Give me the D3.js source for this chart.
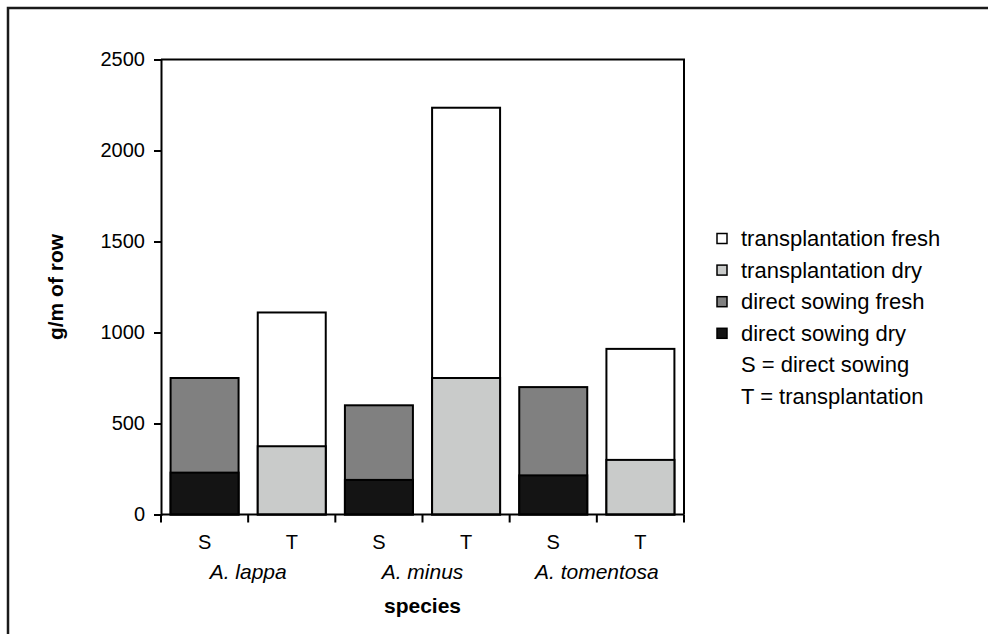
<!DOCTYPE html>
<html><head><meta charset="utf-8">
<script src="https://cdn.jsdelivr.net/npm/d3@7"></script>
<style>body{margin:0;background:#fff}svg{display:block}text{font-family:"Liberation Sans",Arial,sans-serif;fill:#000}</style>
</head><body><svg id="c" width="988" height="634"></svg>
<script>
const species = ["A. lappa", "A. minus", "A. tomentosa"];
const methods = ["S", "T"];
const sowingDry = [230, 190, 215];
const sowingFresh = [750, 600, 700];
const transDry = [375, 750, 300];
const transFresh = [1110, 2235, 910];
const yTicks = [0, 500, 1000, 1500, 2000, 2500];
const legendLabels = ["transplantation fresh", "transplantation dry", "direct sowing fresh", "direct sowing dry"];
const notes = ["S = direct sowing", "T = transplantation"];

const colors = {tf: "#ffffff", td: "#c9cbca", sf: "#808080", sd: "#141414"};
const FONT = '"Liberation Sans",Arial,sans-serif';
const svg = d3.select("#c");
svg.append("rect").attr("x", 8).attr("y", 8).attr("width", 1100).attr("height", 800)
  .attr("fill", "none").attr("stroke", "#1a1a1a").attr("stroke-width", 2.5);

const L = 161, R = 684, T = 59.5, B = 514.5;
const cats = [];
species.forEach((s, i) => methods.forEach(m => cats.push({key: s + "|" + m, sp: i, m})));
const x = d3.scaleBand().domain(cats.map(c => c.key)).range([L, R]).paddingInner(0.22).paddingOuter(0.11);
const xb = d3.scaleBand().domain(cats.map(c => c.key)).range([L, R]);
const y = d3.scaleLinear().domain([0, 2500]).range([B, T]);

// bars
const segs = [];
cats.forEach(c => {
  if (c.m === "S") {
    segs.push({key: c.key, v: sowingFresh[c.sp], f: colors.sf});
    segs.push({key: c.key, v: sowingDry[c.sp], f: colors.sd});
  } else {
    segs.push({key: c.key, v: transFresh[c.sp], f: colors.tf});
    segs.push({key: c.key, v: transDry[c.sp], f: colors.td});
  }
});
svg.append("g").selectAll("rect").data(segs).join("rect")
  .attr("x", d => x(d.key)).attr("width", x.bandwidth())
  .attr("y", d => y(d.v)).attr("height", d => y(0) - y(d.v))
  .attr("fill", d => d.f).attr("stroke", "#000").attr("stroke-width", 2);

// plot frame top and right
svg.append("path").attr("d", `M${L},${T}H${R}V${B}`).attr("fill", "none").attr("stroke", "#000").attr("stroke-width", 2);

// y axis
const ya = svg.append("g").attr("transform", `translate(${L},0)`)
  .call(d3.axisLeft(y).tickValues(yTicks).tickSize(7).tickPadding(9).tickFormat(d3.format("d")));
ya.select(".domain").attr("stroke-width", 2);
ya.selectAll(".tick line").attr("stroke-width", 2);
ya.selectAll("text").attr("font-size", 20).style("font-family", FONT);

// x axis
const xa = svg.append("g").attr("transform", `translate(0,${B})`);
xa.append("line").attr("x1", L).attr("x2", R).attr("stroke", "#000").attr("stroke-width", 2);
const bounds = cats.map(c => xb(c.key)).concat([R]);
xa.selectAll("line.t").data(bounds).join("line").attr("class", "t")
  .attr("x1", d => d).attr("x2", d => d).attr("y1", 0).attr("y2", 8)
  .attr("stroke", "#000").attr("stroke-width", 2);
xa.selectAll("text.m").data(cats).join("text").attr("class", "m")
  .attr("x", d => xb(d.key) + xb.bandwidth() / 2).attr("y", 34)
  .attr("text-anchor", "middle").attr("font-size", 20).text(d => d.m);
svg.selectAll("text.sp").data(species).join("text").attr("class", "sp")
  .attr("x", (d, i) => xb(d + "|T")).attr("y", 579)
  .attr("text-anchor", "middle").attr("font-size", 21).attr("font-style", "italic").text(d => d);

svg.append("text").attr("x", (L + R) / 2).attr("y", 613).attr("text-anchor", "middle")
  .attr("font-size", 21).attr("font-weight", "bold").text("species");
svg.append("text").attr("transform", `translate(63,${(T + B) / 2}) rotate(-90)`)
  .attr("text-anchor", "middle").attr("font-size", 21).attr("font-weight", "bold").text("g/m of row");

// legend
const lg = svg.append("g");
const lc = [colors.tf, colors.td, colors.sf, colors.sd];
legendLabels.forEach((t, i) => {
  const cy = 238.5 + i * 31.6;
  lg.append("rect").attr("x", 717).attr("y", cy - 5).attr("width", 10).attr("height", 10)
    .attr("fill", lc[i]).attr("stroke", "#000").attr("stroke-width", 1.5);
  lg.append("text").attr("x", 741).attr("y", cy + 7.5).attr("font-size", 22).text(t);
});
notes.forEach((t, i) => {
  const cy = 238.5 + (i + 4) * 31.6;
  lg.append("text").attr("x", 741).attr("y", cy + 7.5).attr("font-size", 22).text(t);
});
</script></body></html>
